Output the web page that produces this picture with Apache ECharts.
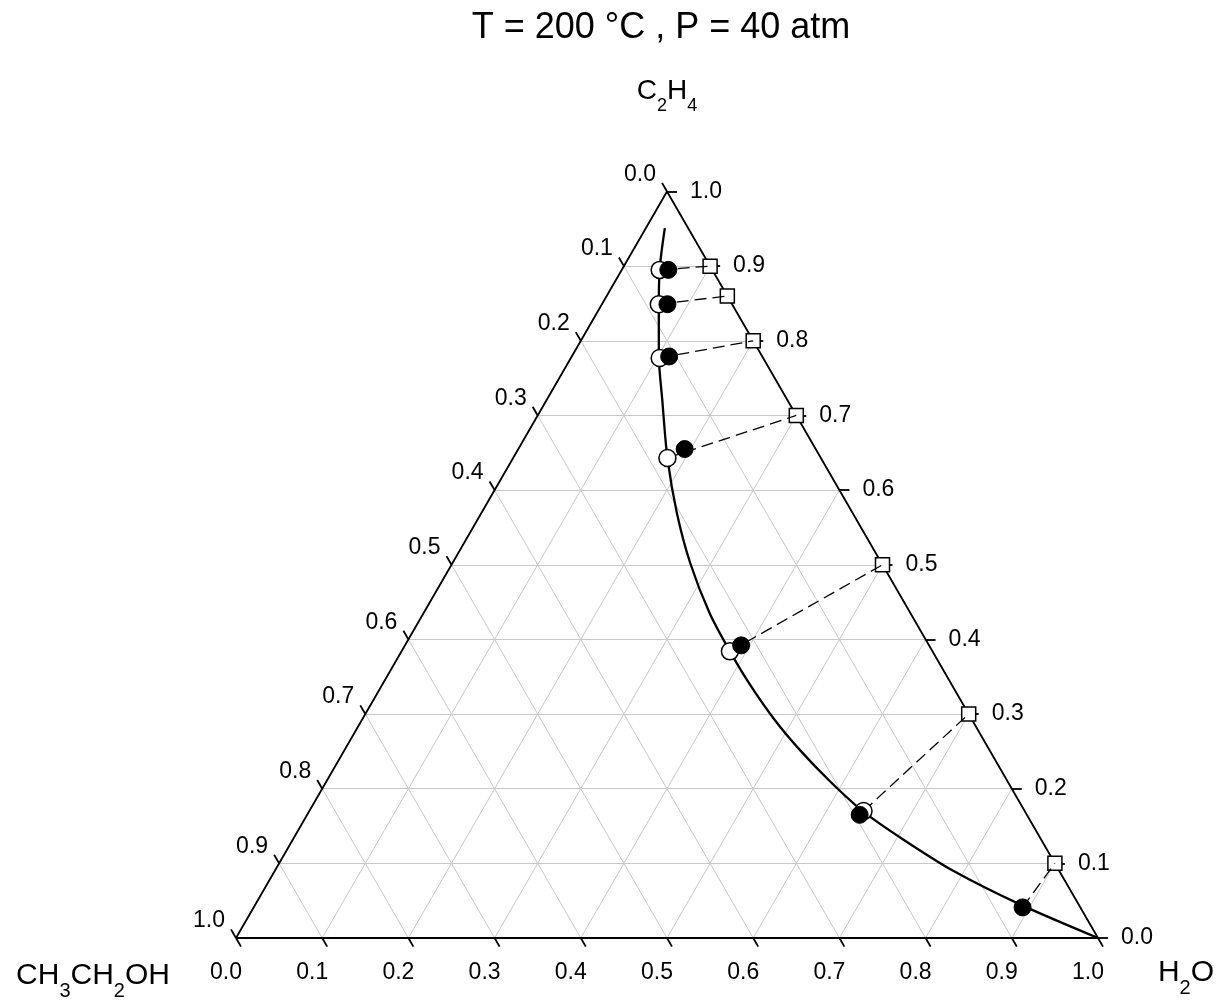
<!DOCTYPE html>
<html>
<head>
<meta charset="utf-8">
<script src="https://cdn.jsdelivr.net/npm/echarts@6/dist/echarts.min.js"></script>
<style>
html, body { margin: 0; padding: 0; background: #fff; }
#chart { width: 1221px; height: 1002px; }
</style>
</head>
<body>
<div id="chart"></div>
<script>
// axis ticks (fractions), same on all three sides
const tickValues = [0, 0.1, 0.2, 0.3, 0.4, 0.5, 0.6, 0.7, 0.8, 0.9, 1.0];
const tickLabels = ['0.0', '0.1', '0.2', '0.3', '0.4', '0.5', '0.6', '0.7', '0.8', '0.9', '1.0'];

// feed points on the C2H4-H2O edge (no ethanol)
const feedC2H4 = [0.90, 0.86, 0.80, 0.70, 0.50, 0.30, 0.10];

// filled circles (H2O, C2H4)
const filledH2O = [0.054, 0.076, 0.113, 0.193, 0.390, 0.641, 0.892];
const filledC2H4 = [0.895, 0.849, 0.779, 0.655, 0.392, 0.165, 0.041];

// open circles (H2O, C2H4)
const openH2O = [0.044, 0.066, 0.103, 0.179, 0.381, 0.643];
const openC2H4 = [0.895, 0.849, 0.777, 0.643, 0.384, 0.170];

// binodal curve (H2O, C2H4)
const curveH2O = [0.022, 0.041, 0.063, 0.100, 0.134, 0.179, 0.227, 0.276, 0.332, 0.381, 0.427, 0.479, 0.528, 0.584, 0.642, 0.708, 0.787, 0.887, 1.0];
const curveC2H4 = [0.951, 0.902, 0.855, 0.781, 0.721, 0.643, 0.569, 0.502, 0.435, 0.384, 0.339, 0.292, 0.252, 0.210, 0.170, 0.132, 0.090, 0.045, 0.0];

const R3 = Math.sqrt(3) / 2;
// ternary -> cartesian, H2O along the bottom, C2H4 up
function tern(h2o, c2h4) {
    return [h2o + c2h4 / 2, c2h4 * R3];
}

const FONT = 'Liberation Sans, Arial, sans-serif';
const TICK = 0.0116;

// grid lines and ticks
const gridLines = [];
const tickLines = [];
tickValues.forEach(function (k) {
    if (k > 0 && k < 1) {
        gridLines.push({ coords: [tern(0, k), tern(1 - k, k)] });       // const C2H4
        gridLines.push({ coords: [tern(k, 0), tern(k, 1 - k)] });       // const H2O
        gridLines.push({ coords: [tern(0, 1 - k), tern(1 - k, 0)] });   // const ethanol
    }
    tickLines.push({ coords: [tern(k, 0), tern(k + TICK, -TICK)] });           // bottom
    tickLines.push({ coords: [tern(0, 1 - k), tern(-TICK, 1 - k + TICK)] });   // left
    tickLines.push({ coords: [tern(1 - k, k), tern(1 - k + TICK, k)] });       // right
});

const frame = [tern(0, 0), tern(1, 0), tern(0, 1), tern(0, 0)];

const bottomLabels = tickValues.map(function (k, i) { return { value: tern(k, 0), name: tickLabels[i] }; });
const leftLabels = tickValues.map(function (k, i) { return { value: tern(0, 1 - k), name: tickLabels[i] }; });
const rightLabels = tickValues.map(function (k, i) { return { value: tern(1 - k, k), name: tickLabels[i] }; });

const feedPts = feedC2H4.map(function (c) { return tern(1 - c, c); });
const filledPts = filledH2O.map(function (h, i) { return tern(h, filledC2H4[i]); });
const openPts = openH2O.map(function (h, i) { return tern(h, openC2H4[i]); });
const curvePts = curveH2O.map(function (h, i) { return tern(h, curveC2H4[i]); });

const ties = feedPts.map(function (p, i) {
    const start = i < openPts.length ? openPts[i] : filledPts[i];
    return { coords: [start, p] };
});

function labelSeries(data, offset, align) {
    return {
        type: 'scatter',
        data: data,
        symbolSize: 1,
        itemStyle: { color: 'rgba(0,0,0,0)', opacity: 1 },
        silent: true,
        clip: false,
        z: 10,
        label: {
            show: true,
            position: 'inside',
            offset: offset,
            align: align,
            verticalAlign: 'middle',
            formatter: '{b}',
            fontFamily: FONT,
            fontSize: 23,
            color: '#000',
            opacity: 1
        }
    };
}

const subRich = function (main, sub, pad) {
    return {
        m: { fontFamily: FONT, fontSize: main, lineHeight: main + 2, verticalAlign: 'top', fill: '#000', color: '#000' },
        s: { fontFamily: FONT, fontSize: sub, lineHeight: sub, verticalAlign: 'top', padding: [pad, 0, 0, 0], fill: '#000', color: '#000' }
    };
};

const chart = echarts.init(document.getElementById('chart'));
chart.setOption({
    animation: false,
    backgroundColor: '#fff',
    grid: { left: 192.9, right: 1221 - 192.9 - 948.2, top: 148.4, bottom: 20.9 },
    xAxis: { type: 'value', min: -0.05, max: 1.05, show: false },
    yAxis: { type: 'value', min: -0.05, max: R3 + 0.05, show: false },
    graphic: [
        {
            type: 'text', x: 661, y: 28,
            style: { text: 'T = 200 °C , P = 40 atm', font: '36px ' + FONT, fill: '#000', align: 'center', verticalAlign: 'middle' }
        },
        {
            type: 'text', x: 667, y: 77,
            style: { text: '{m|C}{s|2}{m|H}{s|4}', rich: subRich(28, 18, 20), align: 'center', verticalAlign: 'top' }
        },
        {
            type: 'text', x: 93, y: 961,
            style: { text: '{m|CH}{s|3}{m|CH}{s|2}{m|OH}', rich: subRich(30, 20, 20), align: 'center', verticalAlign: 'top' }
        },
        {
            type: 'text', x: 1186, y: 958,
            style: { text: '{m|H}{s|2}{m|O}', rich: subRich(30, 20, 20), align: 'center', verticalAlign: 'top' }
        }
    ],
    series: [
        {
            type: 'lines', coordinateSystem: 'cartesian2d', data: gridLines, silent: true, clip: false, z: 1,
            lineStyle: { color: '#c8c8c8', width: 1, opacity: 1 }
        },
        {
            type: 'line', data: frame, symbol: 'none', silent: true, clip: false, z: 2,
            lineStyle: { color: '#000', width: 1.8 }
        },
        {
            type: 'lines', coordinateSystem: 'cartesian2d', data: tickLines, silent: true, clip: false, z: 2,
            lineStyle: { color: '#000', width: 1.8, opacity: 1 }
        },
        {
            type: 'line', data: curvePts, symbol: 'none', smooth: 0.3, silent: true, clip: false, z: 3,
            lineStyle: { color: '#000', width: 2.3 }
        },
        {
            type: 'scatter', data: feedPts, symbol: 'rect', symbolSize: 14, silent: true, clip: false, z: 4,
            itemStyle: { color: '#fff', borderColor: '#000', borderWidth: 1.5, opacity: 1 }
        },
        {
            type: 'lines', coordinateSystem: 'cartesian2d', data: ties, silent: true, clip: false, z: 5,
            lineStyle: { color: '#000', width: 1.3, type: [12, 6], opacity: 1 }
        },
        {
            type: 'scatter', data: openPts, symbol: 'circle', symbolSize: 17, silent: true, clip: false, z: 6,
            itemStyle: { color: '#fff', borderColor: '#000', borderWidth: 1.5, opacity: 1 }
        },
        {
            type: 'scatter', data: filledPts, symbol: 'circle', symbolSize: 17, silent: true, clip: false, z: 7,
            itemStyle: { color: '#000', borderColor: '#000', borderWidth: 1, opacity: 1 }
        },
        labelSeries(bottomLabels, [-10, 35], 'center'),
        labelSeries(leftLabels, [-27, -17], 'center'),
        labelSeries(rightLabels, [23, 0], 'left')
    ]
});
</script>
</body>
</html>
